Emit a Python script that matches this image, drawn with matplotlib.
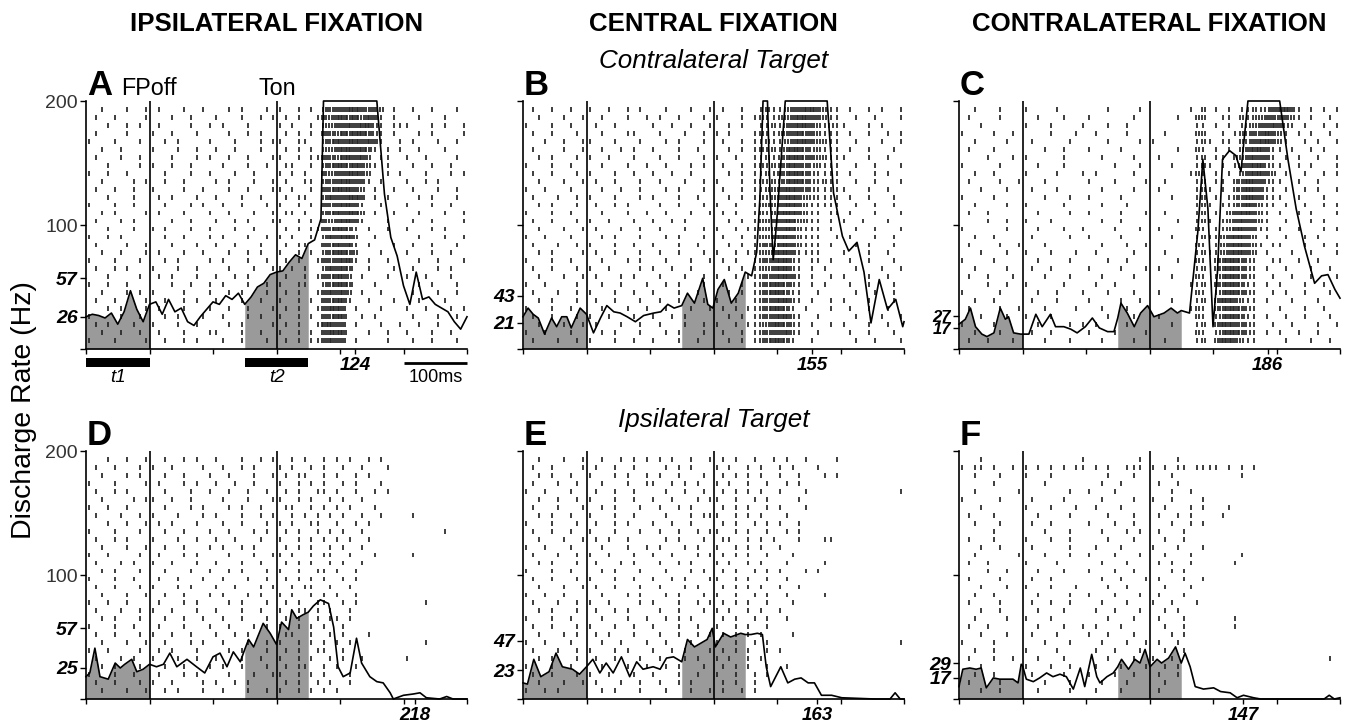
import numpy as np
import matplotlib
matplotlib.use("Agg")
import matplotlib.pyplot as plt
from matplotlib.patches import Rectangle

plt.rcParams['font.family'] = ['Liberation Sans', 'DejaVu Sans']

# ---- data ----
col_titles = ["IPSILATERAL FIXATION", "CENTRAL FIXATION", "CONTRALATERAL FIXATION"]
row_titles = ["Contralateral Target", "Ipsilateral Target"]
panel_letters = ["A", "B", "C", "D", "E", "F"]

# saccade latency (ms after target onset) written under each panel
latencies = [124, 155, 186, 218, 163, 147]
# the two labelled rates on each y axis (t1 mean, t2 mean)
rate_marks = [(26, 57), (21, 43), (17, 27), (25, 57), (23, 47), (17, 29)]

fp_off = 100      # fixation point off (ms)
t_on = 300        # target on (ms)
t1_win = (0, 100)
t2_win = (250, 350)

# spike density (time ms, rate Hz)
psth_a = [(0, 26), (10, 28), (20, 27), (30, 25), (40, 29), (50, 20), (60, 30), (70, 47), (80, 32), (90, 22),
          (100, 36), (110, 38), (120, 28), (130, 40), (140, 30), (150, 33), (160, 22), (170, 19), (180, 26),
          (190, 32), (200, 38), (210, 36), (220, 43), (230, 40), (240, 45), (250, 36), (260, 42), (270, 50),
          (280, 53), (290, 60), (300, 62), (310, 63), (320, 70), (330, 76), (340, 73), (350, 85), (360, 88),
          (370, 105), (374, 200), (458, 200), (470, 125), (480, 90), (490, 75), (500, 51), (510, 36),
          (520, 62), (530, 40), (540, 42), (550, 36), (560, 33), (570, 30), (580, 22), (590, 16), (600, 26)]
psth_b = [(0, 26), (8, 33), (16, 28), (24, 25), (34, 12), (45, 25), (53, 18), (61, 26), (69, 26), (76, 17),
          (90, 33), (100, 28), (111, 13), (122, 25), (132, 35), (143, 30), (153, 29), (164, 26), (177, 22),
          (190, 27), (206, 29), (217, 30), (228, 36), (238, 33), (250, 35), (259, 45), (270, 37), (283, 57),
          (291, 36), (299, 33), (307, 48), (317, 56), (328, 37), (339, 45), (350, 62), (360, 59), (368, 78),
          (373, 121), (378, 200), (385, 200), (389, 126), (394, 72), (399, 99), (413, 200), (479, 200),
          (489, 126), (503, 91), (513, 79), (526, 86), (537, 62), (548, 21), (561, 56), (574, 32), (587, 40),
          (598, 18), (600, 22)]
psth_c = [(0, 20), (10, 24), (18, 33), (26, 18), (36, 12), (44, 10), (55, 13), (65, 33), (73, 24), (78, 26),
          (86, 13), (97, 12), (100, 12), (110, 12), (121, 28), (131, 18), (144, 28), (152, 18), (165, 18),
          (176, 16), (186, 13), (199, 18), (210, 25), (221, 17), (234, 14), (244, 14), (250, 25), (255, 37),
          (265, 29), (276, 18), (286, 29), (297, 35), (307, 26), (323, 29), (334, 33), (344, 29), (350, 31),
          (363, 29), (376, 94), (384, 153), (392, 113), (400, 18), (407, 62), (415, 153), (426, 160),
          (436, 156), (444, 143), (455, 200), (505, 200), (518, 153), (531, 113), (544, 83), (560, 53),
          (571, 59), (581, 60), (592, 48), (600, 41)]
psth_d = [(0, 18), (6, 21), (14, 41), (22, 18), (35, 16), (46, 29), (54, 25), (61, 28), (72, 32), (80, 22),
          (90, 24), (100, 28), (111, 26), (122, 28), (132, 37), (143, 26), (159, 32), (174, 26), (187, 21),
          (200, 34), (211, 37), (222, 26), (232, 38), (243, 30), (250, 40), (256, 48), (264, 42), (279, 61),
          (290, 53), (300, 44), (308, 62), (319, 56), (324, 72), (332, 65), (342, 68), (350, 70), (358, 75),
          (369, 80), (382, 77), (390, 58), (397, 26), (405, 18), (416, 21), (426, 49), (434, 29), (447, 18),
          (458, 14), (468, 13), (479, 5), (484, 0), (500, 3), (515, 4), (526, 5), (536, 1), (557, 0),
          (568, 2), (578, 0), (600, 0)]
psth_e = [(0, 13), (7, 12), (17, 32), (28, 18), (41, 22), (52, 37), (62, 26), (78, 24), (89, 20), (100, 26),
          (110, 32), (121, 21), (131, 29), (142, 21), (155, 34), (168, 18), (179, 30), (189, 24), (205, 26),
          (216, 24), (226, 33), (237, 34), (250, 30), (259, 48), (270, 42), (280, 45), (290, 48), (298, 57),
          (303, 42), (316, 53), (327, 50), (343, 53), (350, 52), (359, 52), (369, 53), (377, 52), (383, 26),
          (390, 10), (406, 26), (417, 13), (428, 16), (438, 17), (449, 13), (459, 13), (470, 3), (486, 3),
          (502, 1), (554, 0), (578, 0), (586, 5), (594, 0), (600, 0)]
psth_f = [(0, 10), (6, 24), (17, 25), (27, 24), (35, 25), (43, 9), (54, 17), (64, 16), (75, 16), (85, 16),
          (93, 13), (98, 28), (100, 27), (106, 16), (117, 14), (127, 17), (138, 21), (148, 18), (159, 20),
          (169, 18), (180, 8), (191, 25), (198, 10), (209, 36), (217, 18), (222, 13), (233, 18), (243, 21),
          (250, 26), (256, 32), (267, 24), (277, 32), (285, 29), (293, 40), (301, 26), (312, 32), (319, 29),
          (330, 33), (341, 42), (350, 29), (356, 37), (364, 26), (372, 10), (385, 8), (401, 9), (412, 6),
          (427, 5), (438, 1), (448, 3), (464, 1), (475, 0), (575, 0), (583, 3), (591, 0), (600, 1)]

# rasters: one string per trial (top trial first), one character per 10 ms bin,
# '.' = no spike, digit = number of spikes in that bin
raster_a = [
    "..1...1..1 .1...1..1. ..1.1...1. 1..1.1.233 3443332.1. .1..1...1.",
    ".1..1....1 ...1..1... 1...1..1.1 .1.1..1324 4342431.1. ..1...1...",
    "...1..1.1. .1....1..1 .1...1.... 1.1..1.223 3434421.11 1...1.1..1",
    ".1....1... 1..1...1.. ..1..1.1.. .1.1.1.332 4344321.1. ..1.1....1",
    "1...1...1. ..1.1....1 ...1...1.1 1..11..234 3443431..1 .1...1..1.",
    "..1..1.... 1...1..1.. 1..1...1.. .1.1.1.223 443431.1.1 ..1...1...",
    ".1...1..1. ...1...1.1 ..1..1...1 1..1.11332 44342.11.. 1..1....1.",
    "...1....1. 1..1..1... .1...1..1. .11..1.234 434321.1.. .1..1..1..",
    "1..1..1... ..1...1..1 ...1..1... 1.1.1..323 34432..1.1 ...1...1.1",
    "..1....1.1 ..1..1.... 1.1...1..1 .1..11.233 44331.1... 1..1.1....",
    ".1..1..1.. 1....1..1. ..1..1...1 1.1..1.334 4432.1..1. .1...1..1.",
    "...1...1.. .1.1...1.. 1...1..1.. .1.11..243 3443.1.1.. ..1.1...1.",
    "1...1..1.. ..1...1.1. .1..1...1. 1..1.1.333 4431..1... 1...1..1..",
    "..1.1....1 .1...1...1 ..1...1..1 .11.1..234 3442.1..1. ..1...1..1",
    ".1...1.1.. ...1..1... 1..1.1...1 1..1.1.323 4431...1.. .1..1....1",
    "...1...1.. 1.1...1..1 ...1..1... .1.1.11334 431.1..1.. 1...1.1...",
    "1..1.1.... ..1..1...1 .1...1..1. 1.1..1.243 442..1.... ..1...1..1",
    ".1....1..1 ...1...1.. 1..1...1.. .1.11..334 341.1...1. .1..1...1.",
    "..1..1...1 .1...1..1. ..1..1.1.. 1..1.1.234 432...1... 1...1..1..",
    "1...1...1. ..1.1....1 .1...1..1. .1.1..1333 441.1..1.. ..1..1...1",
    ".1..1.1... 1...1..1.. ..1...1..1 1.1.1..243 43..1...1. .1...1.1..",
    "...1....1. .1.1...1.. 1..1.1.... .1..1.1334 42.1...1.. 1..1...1..",
    "1..1..1... ...1..1..1 .1...1..1. 1..11..234 43...1.... ..1.1...1.",
    "..1...1.1. 1....1...1 ..1.1...1. .1.1..1343 42.1..1... .1...1..1.",
    ".1..1....1 ..1..1.1.. 1...1..1.. 1..1.1.334 41..1...1. ..1...1...",
    "...1.1...1 .1...1...1 ..1..1...1 .1.1..1344 3.1...1... 1..1...1.1",
    "1....1..1. ..1.1...1. .1...1.1.. 1..1.1.334 4..1.1.... .1...1..1.",
    ".1.1...1.. 1...1..1.. ..1.1....1 .1.1..1443 3.1...1..1 ..1..1....",
    "..1..1..1. .1...1...1 1...1..1.. 1..1.1.344 4...1..1.. 1...1..1..",
    "1...1....1 ..1..1.1.. .1..1...1. .1.1.11343 3.1....1.. .1..1...1.",
]
raster_b = [
    ".1..1..1.. 1..1..1.1. ..1...1..1 .1..1..121 1233443211 .1..1.1..1",
    "..1...1..1 ..1...1..1 .1..1...1. 1...1.1211 2234433211 ..1..1...1",
    "1...1..1.. .1..1..... 1..1..1..1 ..1.1..112 1334432121 1...1.1...",
    ".1..1...1. ..1...11.. .1...1..1. 1.1...1211 2334332111 .1..1..1.1",
    "...1..1..1 1...1...1. ..1.1...1. .1..1.1121 1234432211 ..1...1..1",
    ".1....1..1 ..1..1.1.. 1...1..1.. ..1.1.1212 1344322111 .1..1...1.",
    "..1.1...1. 1..1...1.. .1..1...1. 1..1..1121 2344332211 1...1..1..",
    "1...1..1.. ..1...1..1 ..1...1.1. .1..1.1212 2343322111 ..1..1...1",
    ".1..1...1. 1...1..1.. 1..1..1... ..1.1.1121 3344321111 .1...1.1..",
    "..1...1..1 .1..1...1. .1...1..1. 1...1.1212 2344321211 ..1..1...1",
    "1..1...1.. ..1..1..1. ..1.1...1. .1..1.1122 3443321111 1...1..1..",
    ".1...1..1. 1...1...1. 1...1..1.. ..1.1.1212 3443221111 .1..1...1.",
    "..1.1...1. .1..1.1... .1..1...1. 1..1..1222 3443211111 ..1..1..1.",
    "1...1..1.. ..1...1..1 ..1...1..1 .1.1..1212 4443211.11 .1...1...1",
    ".1..1...1. 1..1...1.. 1..1.1.... ..1.1.1223 3442211.1. 1..1...1..",
    "..1...1..1 .1...1..1. .1...1..1. 1..1.11222 3442111.1. ..1..1...1",
    "1..1...1.. ..1.1...1. ..1.1...1. .1..1.1223 4432111..1 .1...1..1.",
    ".1...1..1. 1...1..1.. 1...1..1.. ..1.1.1232 4432111.1. ..1.1...1.",
    "..1.1....1 .1..1...1. .1..1...1. 1..1.11223 4431111... 1...1..1..",
    "1...1..1.. ..1...1.1. ..1...1..1 .1.1..1233 4421.11.1. .1..1...1.",
    ".1..1...1. 1..1....1. 1..1..1... ..1.1.1223 4421.1.1.. ..1...1..1",
    "..1...1..1 .1...1.1.. .1...1..1. 1..1.11233 4431.1..1. 1...1..1..",
    "1..1....1. ..1..1...1 ..1.1...1. .1..1.1234 4321.1.1.. .1..1...1.",
    ".1...1..1. 1...1..1.. 1...1..1.. ..1.1.1234 4311..1... ..1..1..1.",
    "..1.1...1. .1..1...1. .1..1...1. 1..1..1233 4421.1..1. 1...1...1.",
    "1...1..1.. ..1...1..1 ..1...1..1 .1.1.11234 431.1...1. .1..1..1..",
    ".1..1...1. 1..1...1.. 1..1.1.... ..1.1.1233 4421..1... ..1...1..1",
    "..1...1..1 .1...1..1. .1...1..1. 1..1.11224 4321.1..1. 1...1..1..",
    "1..1...1.. ..1.1...1. ..1.1...1. .1..1.1233 3421..1... .1..1...1.",
    ".1...1..1. 1...1..1.. 1...1..1.. ..1.1.1234 431..1.... ..1..1...1",
]
raster_c = [
    "..1...1... 1....1.... ...1....1. ......1.2. 1.1.112123 4431.1.1.1",
    ".1....1... ..1...1... 1......1.. ....1..22. .11.212233 3321.1..1.",
    "...1...... 1...1....1 ...1..1... .......11. 1.1.122334 321.1..1.1",
    "1....1..1. ....1...1. .1....1... ..1....22. .1.1223343 21.1.1..1.",
    "..1....1.. .1.....1.. ...1....1. 1......121 .11.223443 21..1.1..1",
    ".1...1.... ...1..1... 1....1.... ....1..21. 1.1.234431 1.1..1.1..",
    "....1...1. 1.....1... ..1....1.. .1.....12. 11.2234331 .1.1..1..1",
    "1.....1... ..1...1... ....1...1. ...1...121 .1.1334421 1..1.1...1",
    "..1..1.... 1....1...1 .1.....1.. ......121. 1.1.234432 .1..1..1.1",
    ".1....1..1 ...1...... 1...1....1 ..1....12. 11.2344321 1..1..1...",
    "...1...1.. .1...1.... ..1....1.. .1.....121 .1.2344311 .1..1.1..1",
    "1....1.... ...1...1.. 1....1.... ...1...12. 1.12344311 1..1...1..",
    "..1....1.. 1.....1... ..1...1... .......121 .112343211 .1..1..1.1",
    ".1..1..... ..1....1.. 1....1...1 ..1....12. 1.2344321. 1..1.1...1",
    "....1..1.. 1...1..... ..1..1.... ....1..121 .12343321. .1...1.1..",
    "1......1.. ..1...1..1 ....1...1. .1.....21. 112443311. 1..1...1.1",
    "..1..1.... .1.....1.. 1....1.... ...1...121 1234432.1. .1..1.1...",
    ".1....1..1 ...1...... ..1...1..1 .......21. 12344321.1 1...1..1.1",
    "...1...1.. 1...1...1. .1.....1.. ..1....121 1234432.1. ..1..1...1",
    "1....1.... ..1....1.. ...1..1... ....1..21. 2344321..1 1..1..1...",
    "..1....1.. .1..1..... 1....1...1 .1.....12. 2344321.1. .1...1..1.",
    ".1..1...1. ...1...1.. ..1....1.. ...1...21. 1344321..1 ..1..1...1",
    "....1..1.. 1.....1... .1..1..... ......112. 2344311.1. 1...1..1..",
    "1.....1... ..1..1...1 ...1...1.. .1.....21. 1344321..1 .1..1...1.",
    "..1..1.... .1...1.... 1....1..1. ...1...12. 2443211.1. ..1...1...",
    ".1....1..1 ...1....1. ..1...1... ......121. 2344321... 1...1..1..",
    "...1...1.. 1...1..... ...1...1.. .1.....21. 1344311.1. .1..1...1.",
    "1....1.... ..1....1.1 .1....1... ...1...12. 2443321..1 ..1...1..1",
    "..1...1... .1..1..... 1...1....1 .......21. 1344321.1. 1..1..1...",
    ".1..1...1. ...1...1.. ..1....1.. ..1....12. 2443211... .1...1..1.",
]
raster_d = [
    "...1..1..1 ..1..1.1.. 1...1..1.1 ..1.1..1.1 .1..1.1... ..........",
    ".1..1...1. 1..1....1. .1..1.1... 1.1..1.1.. 1..1...1.. ..........",
    "..1...1.1. ..1..1...1 ..1...1..1 .1.11..1.1 ..1.1..... ..........",
    "1...1....1 .1...1.1.. 1..1..1... 1..1.1.1.. 1.1...1... ..........",
    ".1..1.1... ..1...1..1 ..1..1..1. .1.1..11.1 ..1..1.1.. ..........",
    "..1....1.1 1..1..1... .1...1...1 1..1.1..1. 1..1...... ..........",
    "1..1..1... ..1...1.1. ..1.1..1.. .11..1.1.1 .1...1.... ..........",
    ".1...1..1. 1...1...1. 1...1..1.1 ..1.1.1.1. 1..1..1... .1........",
    "...1..1..1 .1.1...1.. .1..1...1. 1.1..11..1 ..1.1..... ..........",
    "1...1...1. ..1..1...1 ..1...1.1. .1.1..1.1. 1..1...... ......1...",
    ".1..1.1... 1...1..1.. 1..1...1.. 1..1.1.1.1 .1..1..... ..........",
    "..1...1..1 ..1..1...1 .1..1.1... .1.1.1..1. 1..1...... ..........",
    "1..1....1. .1...1.1.. ..1...1..1 1.1..1.11. .1...1.... .1........",
    ".1...1.1.. 1..1...1.. 1...1..1.. .1.1.1..1. 1..1...... ..........",
    "..1.1...1. ..1...1..1 ..1.1...1. 1..1..11.1 ..1....... ..........",
    "1...1..1.. .1..1...1. .1...1..1. .1.1.1.1.. 1.1....... ..........",
    ".1..1...1. 1...1.1... 1..1...1.1 ..1.11..1. .1........ ..........",
    "..1...1..1 ..1..1...1 .1...1.1.. 1.1..1.1.1 ..1....... ..........",
    "1..1..1... .1...1.1.. ..1.1...1. .1.1..11.. 1.1....... ...1......",
    ".1...1..1. 1..1...1.. 1...1..1.. 1..11.1.1. .1........ ..........",
    "..1.1...1. ..1..1..1. .1..1...1. .1.1..1.11 .1........ ..........",
    "1...1..1.. .1...1...1 ..1...1.1. 1..1.1.1.. 1......... ..........",
    ".1..1...1. 1..1..1... 1..1.1.... .11..1..1. 1...1..... ..........",
    "..1...1..1 ..1...1.1. .1...1..1. 1..1.1.1.1 .1........ ...1......",
    "1..1....1. .1.1...1.. ..1.1...1. .1.1..11.. 1......... ..........",
    ".1...1.1.. 1...1..1.. 1...1..1.. 1..1.1..1. 1..1...... 1.........",
    "..1.1...1. ..1..1...1 .1..1...1. .1.11..1.1 ..1....... ..........",
    "1...1..1.. .1...1.1.. ..1...1..1 1..1.1.1.. .1........ ..........",
    ".1..1...1. 1..1....1. 1..1.1.... .1.1..1.1. .1........ ..........",
    "..1...1..1 ..1.1...1. .1...1..1. 1..1.1.1.1 .......... ..........",
]
raster_e = [
    "..1...1..1 ..1..1.1.1 .1.1..1..1 .1.1..1..1 .1..1....1 ..........",
    ".1..1....1 .1..1..1.. ..1.1.1... 1.1..1.1.. 1.1...1... ..........",
    "..1.1..1.. 1...1.1..1 .1..1...1. .1.1.1.1.. 1..1...1.1 ..........",
    ".1...1..1. ..1...1..1 1..1.1.1.. 1.1..1..1. .1.1...... ..........",
    "1..1...1.. .1..1..1.. ..1..1..1. .1.1.1.1.. 1...1..... .........1",
    "..1..1..1. 1...1..1.. 1..1...1.1 1..1..1.1. ...1...... ..........",
    ".1...1...1 ..1.1...1. .1..1.1... .1.1.1..1. 1...1..... ..........",
    "..1.1..1.. 1...1..1.. ..1...1.11 1..1.1.1.. .1........ ..........",
    "1...1...1. .1..1.1... 1..1..1... .1.1..1.1. 1..1...... ..........",
    ".1..1..1.. 1...1...1. .1..1..1.1 1..1.1..1. .1.1...... ..........",
    "..1...1..1 .1.1..1... ..1.1...1. .11..1.1.1 ...1...11. ..........",
    "1..1...1.. ..1...1..1 .1...1.1.. 1..1.1.1.. 1......... ..........",
    ".1...1..1. 1..1...1.. 1..1...1.1 .1.1.1..1. ..1....... ..........",
    "..1.1...1. .1...1.1.. .1..1.1... 1.1..1.1.. .1.....1.. ..........",
    "1...1..1.. ..1.1...1. ..1...1.1. .1.1..1.1. 1...1.1... ..........",
    ".1..1...1. 1...1..1.. 1..1.1...1 1..1.1..1. .1........ ..........",
    "..1...1..1 .1..1...1. .1...1.1.. .1.1.1.1.. 1..1...... ..........",
    "1..1..1... ..1...1.1. ..1.1...1. 1..1..1.1. .1.....1.. ..........",
    ".1...1..1. 1..1....1. 1...1..1.1 .1.1.1..1. ..1....... ..........",
    "..1.1...1. .1..1.1... .1..1...1. 1.1..1.1.. 1......... ..........",
    "1...1..1.. ..1...1..1 ..1.1.1... .1.1..1.1. .1........ ..........",
    ".1..1...1. 1...1..1.. 1...1..1.. 1..1.1..1. .......... ..........",
    "..1...1.1. .1.1...1.. .1..1..1.1 .1.1.1.1.. ..1....... ..........",
    "1..1...1.. ..1..1...1 ..1...1... 1..1..1.1. .......... .........1",
    ".1...1..1. 1...1.1... 1..1.1...1 .1.1.1..1. 1......... ..........",
    "..1.1...1. .1..1...1. .1...1.1.. 1.1..1.1.. .......... ..........",
    "1...1..1.. ..1...1..1 ..1.1...1. .1.1.1..1. .1........ ..........",
    ".1..1...1. 1..1...1.. 1...1..1.. 1..1..1.1. .......... ..........",
    "..1...1..1 .1...1..1. .1..1.1... .1.1..1... .......... ..........",
    "1..1.1.... ..1.1...1. ..1...1..1 .1..1.1... .......... ..........",
]
raster_f = [
    "...1...... .........1 ........1. ....1..... .......... ..........",
    "1.11.1..1. 1.1.1.1.11 .1.1..111. 1.1.11.111 1.1.1.1... ..........",
    "..1...1... 1...1..... ...1...1.. ...1...... ....1..... ..........",
    ".....1.... ...1...... ..1..1.... .1..1..... .......... ..........",
    "..1......1 .......1.. 1...1..... ...1..1... .......... ..........",
    "1.....1... .1....1... ..1....1.. 1..1....1. .......... ..........",
    "...1...... 1...1...1. .1...1.... ..1...1.1. ..1....... ..........",
    ".1...1.... ..1....1.. ...1...1.. .1..1.1... .1........ ..........",
    "..1...1... .1..1..... 1...1..1.. ...1..1.1. .......... ..........",
    ".....1.... ...1...1.. ..1...1.1. .1...1.... .......... ..........",
    ".1...1.... 1...1..1.. ...1...1.. ..1..1.... .......... ..........",
    "...1..1... .1.....1.. .1...1.... 1...1...1. .......... ..........",
    "..1......1 ...1...1.. 1...1...1. ..1...1... ....1..... ..........",
    ".1..1..... 1....1.... ..1...1... .1.1..1... ...1...... ..........",
    "....1..1.. ..1...1... 1...1..1.. ...1.1.... .......... ..........",
    ".1....1... .1..1..... ..1..1...1 .1...1..1. .......... ..........",
    "...1...1.. 1...1...1. ...1..1... ..1...1... .......... ..........",
    "..1..1.... ..1....1.. 1...1...1. .1...1.... .......... ..........",
    ".1....1... .1..1..1.. ..1...1... 1..1...1.. .......... ..........",
    "...1..1... ..1...1... .1..1...1. ..1.1..... .......... ..........",
    "..1....1.. 1...1..... ...1...1.. .1...1.... ...1...... ..........",
    ".1..1..... ..1...1..1 .1...1.... ..1..1.... ...1...... ..........",
    "...1...1.. .1...1.... 1..1...1.. ...1.1.... .......... ..........",
    "1....1.... ...1...1.. ..1...1..1 .1..1..... .......... ..........",
    "..1..1.... 1....1.... .1..1...1. ..1..1.... .......... ..........",
    ".1...1..1. ..1...1... ...1...1.. 1..1...... .......... ........1.",
    "...1...... 1...1..1.. .1...1...1 ..1.1..... .......... ..........",
    "..1..1.... .1....1... 1...1..1.. .1..1..... .......... ..........",
    ".1....1... ...1...1.. ..1...1... ..1...... .......... ..........",
    "...1..1... ..1....1.. .1...1.... .1........ .......... ..........",
]

psths = [psth_a, psth_b, psth_c, psth_d, psth_e, psth_f]
rasters = [raster_a, raster_b, raster_c, raster_d, raster_e, raster_f]

# ---- layout (pixels of the 1346 x 727 figure) ----
W, H = 1346, 727
lefts = [86, 523, 959]
tops = [101, 451]
ax_w, ax_h = 381, 248


def fx(px):
    return px / W


def fy(py):
    return 1 - py / H


def draw_raster(ax, rows):
    ys = np.linspace(193, 7, len(rows))
    xs, yv = [], []
    for y, row in zip(ys, rows):
        s = row.replace(' ', '')[:60]
        for i, ch in enumerate(s):
            if ch.isdigit() and ch != '0':
                n = int(ch)
                for j in range(n):
                    xs.append(i * 10 + (j + 0.5) * 10 / n)
                    yv.append(y)
    yv = np.array(yv)
    ax.vlines(xs, yv - 1.9, yv + 1.9, color='#262626', lw=1.25, zorder=2)


fig = plt.figure(figsize=(W / 100, H / 100), dpi=100)

for k in range(6):
    r, c = divmod(k, 3)
    ax = fig.add_axes([fx(lefts[c]), fy(tops[r] + ax_h), ax_w / W, ax_h / H])
    ax.set_xlim(0, 600)
    ax.set_ylim(0, 200)
    for s in ['top', 'right']:
        ax.spines[s].set_visible(False)
    for s in ['left', 'bottom']:
        ax.spines[s].set_linewidth(1.2)

    t = np.array([p[0] for p in psths[k]], float)
    rate = np.array([p[1] for p in psths[k]], float)
    for lo, hi in (t1_win, t2_win):
        m = (t >= lo) & (t <= hi)
        ax.fill_between(t[m], 0, rate[m], color='#9a9a9a', lw=0, zorder=1)
    draw_raster(ax, rasters[k])
    ax.plot(t, rate, color='k', lw=1.2, zorder=4, clip_on=False)
    ax.axvline(fp_off, color='k', lw=1.2, zorder=3)
    ax.axvline(t_on, color='k', lw=1.2, zorder=3)

    # x ticks, with the latency tick labelled
    lat = latencies[k]
    ax.set_xticks(list(range(0, 601, 100)) + [t_on + lat])
    ax.set_xticklabels([''] * 7 + [str(lat)])
    ax.tick_params(axis='x', direction='out', length=3.6, width=1, pad=2)
    lab = ax.get_xticklabels()[-1]
    lab.set_fontweight('bold')
    lab.set_fontstyle('italic')
    lab.set_fontsize(13.5)

    # y ticks
    lo_r, hi_r = rate_marks[k]
    yt = [0, lo_r, hi_r, 100, 200]
    ylab = ['', str(lo_r), str(hi_r)] + (['100', '200'] if c == 0 else ['', ''])
    ax.set_yticks(yt)
    ax.set_yticklabels(ylab)
    ax.tick_params(axis='y', direction='out', length=4.3, width=1, pad=1.5, labelsize=14)
    close = (hi_r - lo_r) < 12
    for i, lab in enumerate(ax.get_yticklabels()):
        if i in (1, 2):
            lab.set_fontweight('bold')
            lab.set_fontstyle('italic')
            lab.set_color('k')
            if close:
                lab.set_fontsize(12)
        else:
            lab.set_color('#333333')

    # panel letter
    fig.text(fx(lefts[c] + 1), fy(tops[r] - 6), panel_letters[k], fontsize=25,
             fontweight='bold', ha='left', va='baseline')

    if k == 0:
        # epoch bars and scale bar under panel A
        ax.add_patch(Rectangle((t1_win[0], -14.5), t1_win[1] - t1_win[0], 7.2,
                               color='k', clip_on=False, lw=0))
        ax.add_patch(Rectangle((t2_win[0], -14.5), t2_win[1] - t2_win[0], 7.2,
                               color='k', clip_on=False, lw=0))
        ax.plot([500, 600], [-11.3, -11.3], color='k', lw=2, clip_on=False,
                solid_capstyle='butt')
        ax.text(50, -23, 't1', fontsize=13.5, style='italic', ha='center', va='center')
        ax.text(300, -23, 't2', fontsize=13.5, style='italic', ha='center', va='center')
        ax.text(550, -23, '100ms', fontsize=13, ha='center', va='center')

# event labels above panel A
fig.text(fx(121), fy(95), 'FPoff', fontsize=16.8, ha='left', va='baseline')
fig.text(fx(277), fy(95), 'Ton', fontsize=16.8, ha='center', va='baseline')

# column titles
for c, title in enumerate(col_titles):
    fig.text(fx(lefts[c] + ax_w / 2), fy(31), title, fontsize=18.6, fontweight='bold',
             ha='center', va='baseline')

# row labels above the central column
fig.text(fx(lefts[1] + ax_w / 2), fy(68), row_titles[0], fontsize=18.7, style='italic',
         ha='center', va='baseline')
fig.text(fx(lefts[1] + ax_w / 2), fy(427), row_titles[1], fontsize=18.7, style='italic',
         ha='center', va='baseline')

fig.text(fx(24), fy(410), 'Discharge Rate (Hz)', fontsize=20.5, rotation=90,
         ha='center', va='center')

fig.savefig('out.png', dpi=100)
